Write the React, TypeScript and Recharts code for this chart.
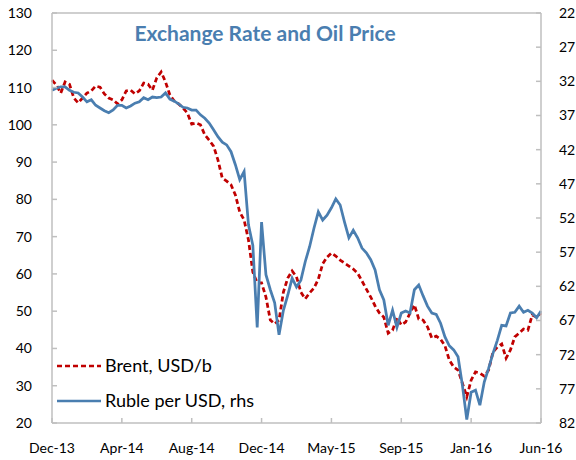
import { LineChart, Line, XAxis, YAxis, ReferenceLine, Legend } from "recharts"

// x-axis tick labels, one every 16 points
const TICK_LABELS = ["Dec-13", "Apr-14", "Aug-14", "Dec-14", "May-15", "Sep-15", "Jan-16", "Jun-16"]

// Brent, USD per barrel (left axis)
const BRENT = [
  112.0, 110.7, 108.5, 111.5, 110.9, 107.2, 105.9, 107.2, 108.5, 109.1,
  110.4, 110.1, 108.3, 107.2, 106.7, 105.6, 106.7, 109.1, 109.3, 108.3,
  109.1, 111.2, 110.9, 109.3, 112.6, 114.2, 111.5, 108.0, 106.4, 105.6,
  104.5, 103.2, 100.2, 100.5, 100.0, 97.3, 95.9, 94.3, 90.6, 85.7,
  84.9, 83.9, 81.2, 76.6, 74.5, 69.1, 60.5, 57.6, 57.6, 53.8,
  47.6, 46.6, 47.6, 55.1, 58.9, 60.8, 59.2, 55.1, 53.3, 54.9,
  56.2, 58.6, 62.7, 64.5, 65.6, 64.8, 63.7, 62.9, 62.1, 61.3,
  60.2, 58.1, 55.9, 53.8, 51.4, 49.5, 48.4, 44.1, 44.9, 48.2,
  46.3, 47.1, 49.5, 51.7, 47.9, 47.6, 45.8, 42.8, 43.3, 42.5,
  40.7, 36.9, 35.0, 34.2, 30.7, 27.0, 31.5, 33.7, 33.4, 32.6,
  34.2, 39.0, 40.4, 41.2, 37.4, 39.6, 43.1, 44.1, 45.2, 44.9,
  49.0, 48.4, 49.5,
]

// Ruble per USD (right axis, inverted)
const RUBLE = [
  33.3, 33.0, 32.8, 32.8, 33.3, 33.6, 33.7, 34.3, 35.0, 34.7,
  35.5, 35.9, 36.3, 36.6, 36.2, 35.5, 35.5, 35.9, 35.6, 35.2,
  35.0, 34.4, 34.7, 34.3, 34.4, 34.3, 33.7, 34.6, 34.9, 35.3,
  35.8, 35.9, 36.2, 36.2, 36.9, 37.4, 38.1, 39.1, 40.1, 40.9,
  41.3, 42.3, 44.2, 46.4, 45.2, 53.0, 56.0, 68.0, 52.6, 60.3,
  62.5, 64.4, 69.1, 65.5, 63.3, 60.8, 62.1, 61.1, 58.4, 56.2,
  53.5, 51.1, 52.3, 51.6, 50.5, 49.2, 50.1, 52.6, 54.9, 53.8,
  54.9, 56.4, 57.1, 58.1, 59.6, 62.5, 64.0, 67.7, 65.5, 68.0,
  65.9, 65.6, 65.9, 62.5, 61.8, 63.4, 64.9, 65.9, 66.1, 67.4,
  69.4, 70.7, 71.3, 72.3, 76.5, 81.5, 77.5, 77.2, 79.4, 76.0,
  74.0, 71.8, 69.9, 67.7, 67.8, 65.9, 65.8, 64.9, 65.8, 65.5,
  65.9, 66.6, 65.6,
]

const LEFT_TICKS = [20, 30, 40, 50, 60, 70, 80, 90, 100, 110, 120, 130]
const RIGHT_TICKS = [22, 27, 32, 37, 42, 47, 52, 57, 62, 67, 72, 77, 82]

const RED = "#c00000"
const BLUE = "#4a7eb0"
const AXIS = "#bfbfbf"
const FONT = "Lato, 'Open Sans', sans-serif"
const STEP = 16

const rows = BRENT.map((b, i) => ({ idx: i, brent: b, ruble: RUBLE[i] }))
const xTicks = TICK_LABELS.map((_, i) => i * STEP)
const tickStyle = { fill: "#000", fontSize: 14, fontFamily: FONT }

function LegendBox({ payload }: { payload?: Array<{ value: string; color?: string; dataKey?: string }> }) {
  return (
    <div style={{ fontFamily: FONT, fontSize: 18, color: "#000" }}>
      {(payload || []).map((p) => (
        <div key={p.value} style={{ display: "flex", alignItems: "center", height: 35, lineHeight: "35px" }}>
          <svg width={44} height={6} style={{ marginRight: 4 }}>
            <line
              x1={0}
              x2={44}
              y1={3}
              y2={3}
              stroke={p.color}
              strokeWidth={2.5}
              strokeDasharray={p.dataKey === "brent" ? "5 3" : undefined}
            />
          </svg>
          <span>{p.value}</span>
        </div>
      ))}
    </div>
  )
}

export default function App() {
  return (
    <div style={{ position: "absolute", left: 0, top: 0, width: 576, height: 460, background: "#fff" }}>
      <LineChart width={576} height={460} data={rows} margin={{ top: 13, right: 0, bottom: 0, left: 0 }}>
        <XAxis
          dataKey="idx"
          type="number"
          domain={[0, BRENT.length - 1]}
          ticks={xTicks}
          tickFormatter={(v: number) => TICK_LABELS[Math.round(v / STEP)]}
          height={37}
          stroke={AXIS}
          strokeWidth={1.5}
          tickSize={-5}
          tickMargin={25}
          tick={tickStyle}
          interval={0}
        />
        <YAxis
          yAxisId="left"
          orientation="left"
          domain={[20, 130]}
          ticks={LEFT_TICKS}
          width={52}
          stroke={AXIS}
          strokeWidth={1.5}
          tickSize={-5}
          tickMargin={25}
          tick={tickStyle}
          interval={0}
        />
        <YAxis
          yAxisId="right"
          orientation="right"
          domain={[22, 82]}
          reversed
          ticks={RIGHT_TICKS}
          width={35}
          stroke={AXIS}
          strokeWidth={1.5}
          tickSize={-5}
          tickMargin={23}
          tick={tickStyle}
          interval={0}
        />
        <ReferenceLine yAxisId="left" y={130} stroke={AXIS} strokeWidth={1.5} />
        <Line
          yAxisId="left"
          dataKey="brent"
          name="Brent, USD/b"
          stroke={RED}
          strokeWidth={2.75}
          strokeDasharray="5 3"
          dot={false}
          type="linear"
          isAnimationActive={false}
        />
        <Line
          yAxisId="right"
          dataKey="ruble"
          name="Ruble per USD, rhs"
          stroke={BLUE}
          strokeWidth={2.75}
          dot={false}
          type="linear"
          isAnimationActive={false}
        />
        <Legend
          layout="vertical"
          align="center"
          verticalAlign="middle"
          content={<LegendBox />}
          wrapperStyle={{ position: "absolute", left: 57, top: 348, width: "auto", height: "auto" }}
        />
      </LineChart>
      <div
        style={{
          position: "absolute",
          left: 265,
          top: 20,
          transform: "translateX(-50%)",
          whiteSpace: "nowrap",
          fontFamily: FONT,
          fontWeight: 700,
          fontSize: 21,
          color: BLUE,
        }}
      >
        Exchange Rate and Oil Price
      </div>
    </div>
  )
}
